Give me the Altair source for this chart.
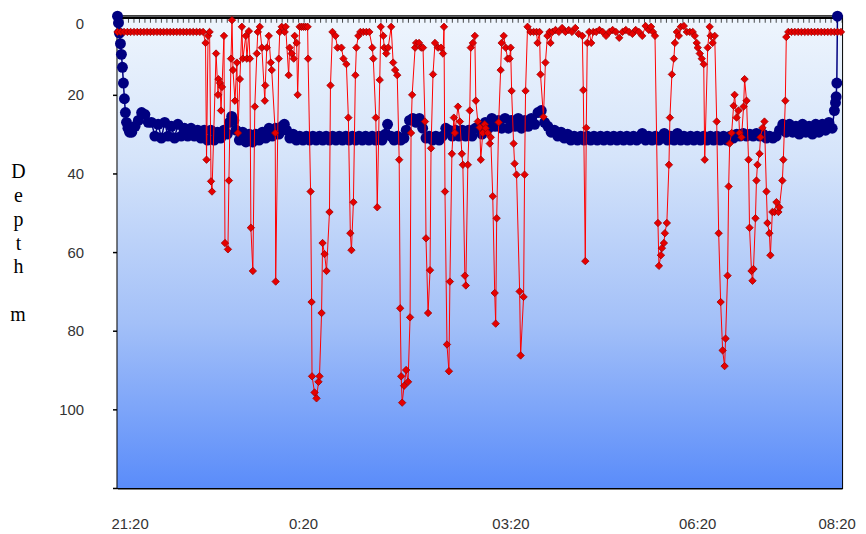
import altair as alt
import pandas as pd

# ---------------- data (minutes after 21:20, depth in m) ----------------
navy_min = [0, 0.9, 1.8, 2.7, 3.6, 4.5, 5.4, 6.3, 7.2, 8.2, 9.5, 11, 13, 16, 19, 22, 25, 28,
            31, 34, 37, 40, 43, 46, 49, 52, 55, 58, 61, 64, 67, 70, 73, 76, 79, 82, 85, 88, 91, 94, 97, 100,
            102, 104, 106, 108, 111, 114, 117, 120, 123, 126, 129, 132, 135, 138, 141, 144, 147, 150, 152, 154,
            157, 160, 163, 166, 169, 172, 175, 178, 181, 184, 187, 190, 193, 196, 199, 202, 205, 208, 211, 214,
            217, 220, 223, 226, 229, 232, 235, 238, 241, 244, 246, 249, 252, 255, 258, 261, 263, 266, 269, 272,
            275, 278, 281, 284, 287, 290, 293, 296, 299, 302, 305, 308, 311, 314, 317, 320, 323, 326, 329, 332,
            335, 338, 341, 344, 347, 350, 353, 356, 359, 362, 365, 368, 371, 374, 377, 380, 383, 386, 389, 392,
            395, 398, 401, 404, 407, 410, 413, 416, 419, 422, 425, 428, 431, 434, 437, 440, 443, 446, 449, 452,
            455, 458, 461, 464, 467, 470, 473, 476, 478, 481, 484, 487, 490, 493, 496, 498, 501, 504, 507, 510,
            513, 516, 519, 522, 525, 528, 531, 534, 537, 540, 543, 546, 549, 552, 555, 558, 561, 564, 567, 570,
            573, 576, 579, 582, 585, 588, 591, 594, 597, 600, 603, 606, 609, 612, 615, 618, 621, 624, 627, 630,
            633, 636, 639, 642, 645, 648, 651, 653, 654, 654.6, 655.2, 655.8]
navy_depth = [0, 1.7, 4.3, 7, 9.7, 13, 17, 21, 24.5, 27, 28.5, 29.5, 29.5, 28, 26.5, 24.5, 25, 27,
              27, 30.5, 27.5, 31, 27, 30.5, 28, 31, 27.5, 30.5, 28.5, 30.5, 28.5, 30.5, 29, 31, 29, 31.5, 29, 31.5, 29.5, 31, 29, 30,
              27, 25.5, 26.5, 29, 31.5, 29.5, 32, 30, 32, 30, 31.5, 29.5, 31, 28.5, 30.5, 28.5, 30, 28, 27.5, 29,
              31, 30, 31.5, 30.5, 31.5, 30.5, 31.5, 30.5, 31.5, 30.5, 31.5, 30.5, 31.5, 30.5, 31.5, 30.5, 31.5, 30.5, 31.5, 30.5,
              31.5, 30.5, 31.5, 30.5, 31.5, 30.5, 31.5, 30.5, 31.5, 30, 27.5, 30.5, 31.5, 30.5, 31.5, 31, 29, 26.5, 26, 27,
              26, 28.5, 31, 30.5, 31.5, 30.5, 31.5, 30.5, 28.5, 29, 30.5, 29, 30.5, 29, 30.5, 29, 30.5, 28.5, 28.5, 30,
              27, 28.5, 26, 28, 26.5, 28.5, 26, 28.5, 26.5, 28, 26, 28.5, 26.5, 28, 26, 27.5, 24.5, 24, 27, 28,
              29.5, 29, 30.5, 29.5, 31, 30, 31.5, 30.5, 31.5, 30.5, 31.5, 30.5, 31.5, 30.5, 31.5, 30.5, 31.5, 30.5, 31.5, 30.5,
              31.5, 30.5, 31.5, 30.5, 31.5, 30.5, 31.5, 30.5, 29.8, 31.5, 30.5, 31.5, 30.5, 31.5, 30.5, 29.8, 31.5, 30.5, 31.5, 29.8,
              31.5, 30.5, 31.5, 30.5, 31.5, 30.5, 31.5, 30.5, 31.5, 30.5, 31.5, 30.5, 31.5, 30.5, 31.5, 30.5, 31, 30, 30.5, 29.8,
              30.5, 30, 30.5, 29.8, 30.5, 30, 31, 30.5, 31, 30.5, 29, 27.5, 29.5, 27.5, 29.5, 28, 30, 27.5, 29.5, 28,
              30, 27.5, 29.5, 27.5, 29, 27, 28.5, 24, 22, 20.5, 17, 0]

red_min = [0, 3, 6, 9, 12, 15, 18, 21, 24, 27, 30, 33, 36, 39, 42, 45, 48, 51, 54, 57, 60, 63, 66, 69, 72, 75, 78,
           80.2, 81.1, 82.5, 83.9, 85.2, 86.1, 89.8, 91.6, 92.0, 93.4, 94.3, 95.2, 97.0, 97.9, 100.6, 101.5, 103.4, 104.3,
           105.2, 107.0, 108.8, 109.7, 111.5, 113.3, 114.2, 116.9, 117.9, 119.7, 120.6, 121.5, 123.3, 125.1, 126.9, 127.8,
           129.6, 131.5, 134.2, 134.6, 136.0, 137.8, 139.6, 140.5, 143.7, 144.1, 146.9, 147.8, 149.6, 152.3, 153.2, 155.9,
           156.8, 158.7, 160.5, 161.4, 163.2, 164.1, 165.9, 167.7, 169.5, 171.3, 173.2, 173.6, 175.9, 176.8, 177.2, 179.5,
           181.3, 183.1, 184.0, 185.9, 186.8, 188.6, 190.4, 193.1, 194.0, 195.8, 198.5, 200.4, 204.0, 205.8, 208.5, 210.3,
           212.1, 213.1, 214.9, 216.7, 217.6, 219.4, 221.2, 223.9, 226.7, 229.4, 232.1, 233.0, 235.3, 236.6, 238.9, 239.8,
           242.1, 243.0, 244.8, 246.6, 249.3, 251.1, 252.9, 254.8, 256.6, 257.5, 258.4, 259.3, 261.1, 262.9, 264.7, 266.5,
           267.4, 268.4, 271.1, 272.0, 274.7, 276.5, 278.3, 280.1, 281.0, 282.9, 284.7, 285.6, 287.4, 289.2, 291.9, 294.6,
           296.5, 297.4, 298.3, 300.1, 301.9, 302.8, 304.6, 306.4, 307.3, 310.1, 311.9, 313.7, 314.6, 316.4, 317.3, 319.1,
           320.9, 321.8, 323.7, 325.5, 326.4, 328.2, 330.0, 330.9, 332.7, 334.5, 335.4, 337.3, 339.1, 340.0, 341.8, 343.6,
           344.5, 345.4, 347.2, 349.0, 349.9, 351.8, 353.6, 355.4, 357.2, 358.1, 359.0, 360.8, 361.7, 363.5, 366.3, 367.2,
           369.9, 370.8, 371.7, 373.5, 376.2, 379.0, 381.7, 382.6, 384.4, 385.3, 388.0, 389.8, 391.6, 393.5, 394.4, 396.2,
           399, 402, 405, 408, 411, 414, 417, 420,
           423.4, 424.3, 426.1, 427.0, 427.9, 429.7, 431.5, 433.4,
           436, 439, 442, 445, 448, 451, 454, 457, 460, 463, 466, 469, 472, 475, 478, 481, 484, 486,
           487.8, 489.6, 492.3, 493.2, 495.0, 495.9, 497.7, 498.6, 500.4, 502.3, 503.2, 505.0, 506.8, 507.7, 509.5, 511.3,
           513.1, 515.9, 518.6, 521.3, 524.0, 525.8, 527.6, 528.5, 530.4, 532.2, 534.0, 534.9, 537.6, 539.4, 540.3, 542.1,
           544.0, 545.8, 547.6, 549.4, 551.2, 553.0, 553.9, 555.7, 556.7, 557.6, 559.4, 561.2, 562.1, 563.9, 565.7, 566.6,
           568.4, 570.3, 571.2, 573.0, 574.8, 575.7, 577.5, 578.4, 579.3, 581.1, 582.0, 582.9, 584.8, 585.7, 587.5, 589.3,
           591.1, 592.0, 593.8, 594.7, 596.5, 598.4, 600.2, 602.0, 602.9, 605.6, 606.5, 608.3, 609.2, 611.0,
           614, 617, 620, 623, 626, 629, 632, 635, 638, 641, 644, 647, 650, 653, 656, 659]
red_depth = [4, 4, 4, 4, 4, 4, 4, 4, 4, 4, 4, 4, 4, 4, 4, 4, 4, 4, 4, 4, 4, 4, 4, 4, 4, 4, 4,
             6.8, 36.5, 5, 4, 42, 44.6, 9.5, 20, 16, 17, 24, 18, 5, 57.7, 59.3, 41.8, 10.8, 1,
             13.7, 21.5, 11.8, 29.7, 16, 2.7, 10.8, 5, 10.8, 3.8, 10.8, 53.8, 64.8, 23, 9.5, 4,
             2.7, 8, 21.5, 17.6, 8, 5, 11.8, 13.7, 29.7, 67.5, 10.8, 4, 2.7, 4, 2.7, 15,
             8, 9.5, 10.8, 5, 6.8, 20, 2.7, 2.7, 2.7, 2.7, 2.7, 10.8, 44.6, 72.7, 91.6, 95.7,
             97.2, 93, 91.6, 75.5, 57.7, 60.5, 64.8, 49.8, 17.6, 4, 5, 8, 8, 10.8, 12.2, 25.8,
             55.2, 59.5, 47.3, 15, 8, 5, 4, 4, 4, 4, 8, 10.8, 25.8, 48.6, 16.2, 2.7,
             5, 8, 9.5, 8, 2.7, 11.8, 13.7, 15, 36.5, 74.3, 91.6, 98.3, 94, 90, 93, 76.6,
             29.7, 20, 8, 6.8, 6.8, 8, 8, 26.8, 56.5, 75.5, 64.6, 33.6, 14.8, 6.8, 8, 8,
             9.5, 2.7, 44.6, 83.5, 90.3, 67.5, 35, 25.8, 29.7, 23, 26.8, 35, 37.8, 66, 68.5, 37.8,
             24, 8, 6.8, 5, 21.5, 26.8, 28.3, 36.5, 29.7, 27.5, 28.5, 29.7, 32.4, 30.8, 45.8, 70.4,
             78.2, 51.4, 27, 13.7, 6.8, 5, 8, 10.8, 10.8, 8, 19, 32.4, 37.5, 40.3, 70, 86.3,
             71.4, 40.3, 19, 2.7, 4, 4, 4, 6.8, 4, 14.8, 25.6, 11.8, 5, 4, 6.8, 4,
             3.5, 4, 3, 4, 3.5, 4, 3, 4.5,
             5, 18.8, 62.3, 28.4, 6.8, 4, 6.8, 4,
             4, 3.5, 4, 5, 4, 3.5, 4, 5.5, 4, 3.5, 4, 4.5, 3.5, 4, 5, 2.5, 3.5, 2.7,
             4, 5, 52.6, 63.5, 60.8, 59, 57.7, 55.2, 52.6, 37.8, 25.8, 14.8, 10.8, 6.8, 4, 5,
             2.7, 2.5, 4, 4, 4, 5, 6.8, 8, 9.5, 10.8, 12.2, 36.5, 8, 2.7, 5, 6.8,
             5, 26.8, 55.2, 72.7, 85, 89, 82, 66, 43.3, 32.4, 29.7, 22.8, 20, 25.8, 24, 29.7,
             30.8, 23, 16, 21.5, 36.5, 53.8, 64.8, 67.3, 64.3, 51.4, 41.8, 37.8, 35, 30.8, 28.4, 26.8,
             44.6, 52.6, 55.2, 60.8, 49.8, 49.8, 47.3, 49.8, 48.6, 41.8, 36.5, 21.5, 5.3, 4,
             4, 4, 4, 4, 4, 4, 4, 4, 4, 4, 4, 4, 4, 4, 4, 4]

surface_min = list(range(0, 661, 5))
surface_level = 0

x_tick_values = [11, 169, 358, 528, 655]
x_tick_labels = ["21:20", "0:20", "03:20", "06:20", "08:20"]
y_tick_values = [0, 20, 40, 60, 80, 100, 120]
y_title_word = ["D", "e", "p", "t", "h"]
y_title_unit = "m"

W, H = 728, 474
TITLE_X, TITLE_TOP, TITLE_LH = -100, 146, 24

navy = pd.DataFrame({"t": navy_min, "depth": navy_depth, "i": list(range(len(navy_min)))})
red = pd.DataFrame({"t": red_min, "depth": red_depth, "i": list(range(len(red_min)))})
surface = pd.DataFrame({"t": surface_min, "depth": [surface_level] * len(surface_min)})

label_expr = " : ".join(f"datum.value == {v} ? '{l}'" for v, l in zip(x_tick_values, x_tick_labels)) + " : ''"

x_enc = alt.X(
    "t:Q",
    scale=alt.Scale(domain=[0, 660], nice=False, zero=False),
    axis=alt.Axis(values=x_tick_values, labelExpr=label_expr, title=None, ticks=False, grid=False,
                  labelPadding=29, labelFlush=False, labelFontSize=15, labelColor="#333333",
                  labelFont="Liberation Sans", domainColor="black", domainWidth=2, labelOverlap=False),
)
y_enc = alt.Y(
    "depth:Q",
    scale=alt.Scale(domain=[0, 120], reverse=True, nice=False, zero=False),
    axis=alt.Axis(values=y_tick_values, labelExpr="datum.value == 120 ? '' : datum.label",
                  title=y_title_word, titleAngle=0, titleX=TITLE_X, titleY=TITLE_TOP, titleAlign="center",
                  titleBaseline="top", titleFont="Liberation Serif", titleFontSize=20,
                  titleFontWeight="normal", titleLineHeight=TITLE_LH, titleColor="black",
                  grid=False, tickSize=5, tickColor="black", tickWidth=1.5, domainColor="black",
                  domainWidth=2, labelFontSize=15, labelPadding=29, labelFlush=True,
                  labelColor="#333333", labelFont="Liberation Sans"),
)

background = alt.Chart(alt.Data(values=[{}])).mark_rect(
    color=alt.LinearGradient(
        gradient="linear", x1=0, x2=0, y1=0, y2=1,
        stops=[alt.GradientStop(color="#EEF5FD", offset=0),
               alt.GradientStop(color="#D5E4FA", offset=0.3),
               alt.GradientStop(color="#A3C0F8", offset=0.65),
               alt.GradientStop(color="#5A8CFA", offset=1)],
    )
).encode(x=alt.value(0), x2=alt.value(W), y=alt.value(0), y2=alt.value(H))

# unit of the axis title, one blank line below "Depth"
unit_text = alt.Chart(alt.Data(values=[{}])).mark_text(
    text=y_title_unit, font="Liberation Serif", fontSize=20, color="black", align="center", baseline="top"
).encode(x=alt.value(TITLE_X), y=alt.value(TITLE_TOP + TITLE_LH * (len(y_title_word) + 1)))

surf_line = alt.Chart(surface).mark_line(color="black", strokeWidth=2.5, yOffset=1.5).encode(x=x_enc, y=y_enc)
surf_ticks = alt.Chart(surface).mark_tick(color="black", orient="vertical", size=5, thickness=1, yOffset=4).encode(
    x=x_enc, y=y_enc)

navy_line = alt.Chart(navy).mark_line(color="#000080", strokeWidth=1.5).encode(x=x_enc, y=y_enc, order="i:Q")
navy_pts = alt.Chart(navy).mark_point(filled=True, shape="circle", size=120, color="#000080", opacity=1).encode(
    x=x_enc, y=y_enc)

red_line = alt.Chart(red).mark_line(color="#FF0000", strokeWidth=1).encode(x=x_enc, y=y_enc, order="i:Q")
red_pts = alt.Chart(red).mark_point(filled=True, shape="diamond", size=55, fill="#E60000", stroke="#A00000",
                                    strokeWidth=0.8, opacity=1).encode(x=x_enc, y=y_enc)

chart = alt.layer(background, surf_line, surf_ticks, navy_line, navy_pts, red_line, red_pts, unit_text).properties(
    width=W, height=H,
    autosize=alt.AutoSizeParams(type="none"),
    padding={"left": 110, "top": 7, "right": 16, "bottom": 45},
    background="white",
).configure_view(stroke="black", strokeWidth=2)

chart.save("out.html", embed_options={"renderer": "svg", "actions": False})
